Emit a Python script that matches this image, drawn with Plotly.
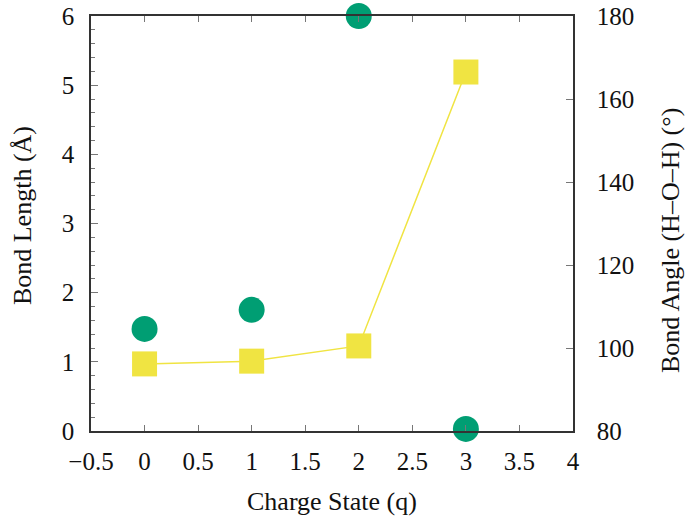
import plotly.graph_objects as go

charge = [0, 1, 2, 3]
bond_length = [0.97, 1.01, 1.23, 5.19]
bond_angle = [104.6, 109.2, 180.0, 80.5]

x_title = "Charge State (q)"
y_title = "Bond Length (Å)"
y2_title = "Bond Angle (H–O–H) (°)"

FONT = "Liberation Serif"
AX = "#333333"
TXT = "#111111"
TICKC = "#777777"

fig = go.Figure()
fig.add_trace(go.Scatter(
    x=charge, y=bond_length, mode="lines+markers",
    line=dict(color="#F0E442", width=1.5),
    marker=dict(symbol="square", size=25, color="#F0E442"),
    cliponaxis=False, yaxis="y", showlegend=False,
))
fig.add_trace(go.Scatter(
    x=charge, y=bond_angle, mode="markers",
    marker=dict(symbol="circle", size=26, color="#009E73"),
    cliponaxis=False, yaxis="y2", showlegend=False,
))

fig.update_layout(
    width=685, height=522,
    margin=dict(l=91, r=112, t=16, b=91),
    paper_bgcolor="white", plot_bgcolor="white",
    font=dict(family=FONT, size=25, color=TXT),
    xaxis=dict(
        range=[-0.5, 4], dtick=0.5, tick0=0, automargin=False,
        showgrid=False, zeroline=False,
        showline=True, linecolor=AX, linewidth=1.5, mirror="ticks",
        ticks="inside", ticklen=6, tickwidth=1, tickcolor=TICKC,
        ticklabelstandoff=7,
    ),
    yaxis=dict(
        range=[0, 6], dtick=1, automargin=False,
        showgrid=False, zeroline=False,
        showline=True, linecolor=AX, linewidth=1.5,
        ticks="inside", ticklen=7, tickwidth=1, tickcolor=TICKC,
        ticklabelstandoff=10,
        minor=dict(dtick=0.2, ticks="inside", ticklen=4, tickcolor=TICKC, showgrid=False),
    ),
    yaxis2=dict(
        range=[80, 180], dtick=20, overlaying="y", side="right", automargin=False,
        showgrid=False, zeroline=False,
        showline=True, linecolor=AX, linewidth=1.5,
        ticks="inside", ticklen=7, tickwidth=1, tickcolor=TICKC,
        ticklabelstandoff=17,
    ),
    annotations=[
        dict(text=x_title, xref="paper", yref="paper", x=0.5, y=-0.171,
             xanchor="center", yanchor="middle", showarrow=False, font=dict(size=26)),
        dict(text=y_title, xref="paper", yref="paper", x=-0.143, y=0.518,
             xanchor="center", yanchor="middle", textangle=-90, showarrow=False, font=dict(size=26)),
        dict(text=y2_title, xref="paper", yref="paper", x=1.201, y=0.46,
             xanchor="center", yanchor="middle", textangle=-90, showarrow=False, font=dict(size=26)),
    ],
)

fig.write_html("out.html", config={"displayModeBar": False},
               post_script="document.body.style.margin='0';")
